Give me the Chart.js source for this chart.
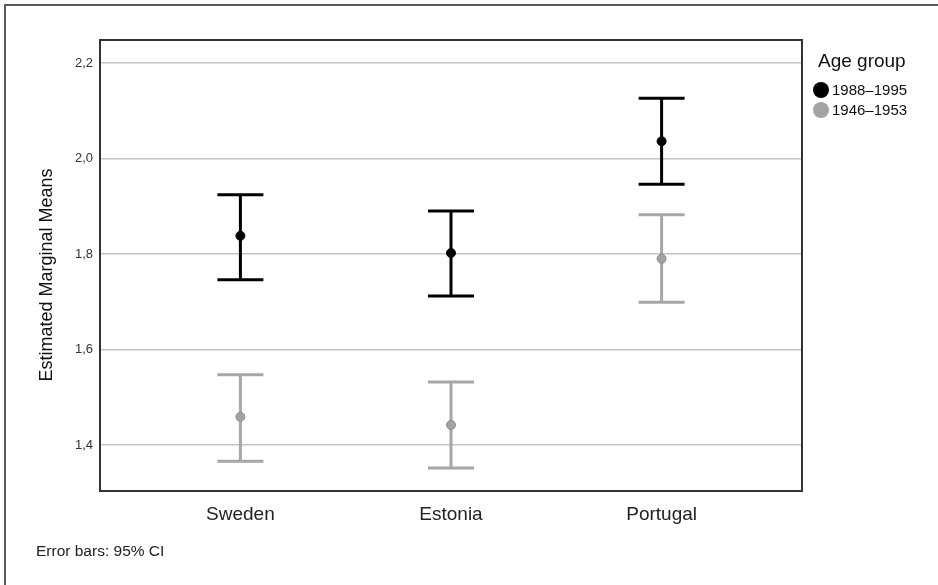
<!DOCTYPE html>
<html>
<head>
<meta charset="utf-8">
<script src="https://cdn.jsdelivr.net/npm/chart.js@4"></script>
<style>
  html, body { margin: 0; padding: 0; background: #fff; }
  #wrap { position: relative; width: 938px; height: 585px; overflow: hidden; font-family: "Liberation Sans", Arial, sans-serif; }
  #c { position: absolute; left: 0; top: 0; }
  #frame { position: absolute; left: 4px; top: 4px; width: 960px; height: 700px; border-left: 2px solid #5a5a5a; border-top: 2px solid #5a5a5a; }
  #legend { position: absolute; left: 813px; top: 50px; color: #111; }
  #legend .title { position: absolute; left: 5px; top: 0; font-size: 19px; white-space: nowrap; }
  #legend .item { position: absolute; left: 0; font-size: 15px; white-space: nowrap; height: 18px; line-height: 18px; }
  #legend .dot { display: inline-block; width: 16px; height: 16px; border-radius: 50%; vertical-align: middle; margin-right: 3px; position: relative; top: -1px; }
  #ytitle { position: absolute; left: -104px; top: 264px; width: 300px; height: 22px; line-height: 22px; text-align: center; font-size: 18px; color: #111; transform: rotate(-90deg); transform-origin: 150px 11px; white-space: nowrap; }
  #foot { position: absolute; left: 36px; top: 542px; font-size: 15.5px; color: #222; white-space: nowrap; }
</style>
</head>
<body>
<div id="wrap">
  <canvas id="c" width="938" height="585"></canvas>
  <div id="frame"></div>
  <div id="legend"></div>
  <div id="ytitle"></div>
  <div id="foot">Error bars: 95% CI</div>
</div>
<script>
const categories = ['Sweden', 'Estonia', 'Portugal'];
const seriesNames = ['1988–1995', '1946–1953'];
const legendTitle = 'Age group';
const yTitle = 'Estimated Marginal Means';
const youngMean  = [1.838, 1.802, 2.036];
const youngLower = [1.746, 1.712, 1.946];
const youngUpper = [1.924, 1.890, 2.126];
const oldMean  = [1.459, 1.442, 1.790];
const oldLower = [1.366, 1.352, 1.699];
const oldUpper = [1.547, 1.532, 1.882];
const yTicks = [1.4, 1.6, 1.8, 2.0, 2.2];
const yTickLabels = ['1,4', '1,6', '1,8', '2,0', '2,2'];

const colors = ['#000000', '#a6a6a6'];
const pointFill = ['#000000', '#a3a3a3'];
const pointBorder = ['#000000', '#8c8c8c'];

document.getElementById('ytitle').textContent = yTitle;

// legend
const lg = document.getElementById('legend');
lg.innerHTML = '<div class="title">' + legendTitle + '</div>' +
  seriesNames.map((n, i) => '<div class="item" style="top:' + (31 + i * 20) + 'px"><span class="dot" style="background:' + pointFill[i] + '"></span>' + n + '</div>').join('');

const errorBars = {
  id: 'errorBars',
  beforeDatasetsDraw(chart) {
    const ctx = chart.ctx;
    const xs = chart.scales.x, ys = chart.scales.y;
    chart.data.datasets.forEach((ds, d) => {
      ctx.save();
      ctx.strokeStyle = ds.barColor;
      ctx.lineWidth = 3;
      ctx.lineCap = 'butt';
      ds.data.forEach((p, i) => {
        const x = xs.getPixelForValue(p.x);
        const yl = ys.getPixelForValue(ds.lower[i]);
        const yu = ys.getPixelForValue(ds.upper[i]);
        const hw = 23;
        ctx.beginPath();
        ctx.moveTo(x, yl); ctx.lineTo(x, yu);
        ctx.moveTo(x - hw, yl); ctx.lineTo(x + hw, yl);
        ctx.moveTo(x - hw, yu); ctx.lineTo(x + hw, yu);
        ctx.stroke();
      });
      ctx.restore();
    });
  }
};

const plotFrame = {
  id: 'plotFrame',
  afterDraw(chart) {
    const {left, top, right, bottom} = chart.chartArea;
    const ctx = chart.ctx;
    ctx.save();
    ctx.strokeStyle = '#333';
    ctx.lineWidth = 2;
    ctx.strokeRect(left, top, right - left, bottom - top);
    ctx.restore();
  }
};

new Chart(document.getElementById('c'), {
  type: 'scatter',
  data: {
    datasets: [
      {
        label: seriesNames[0],
        data: categories.map((c, i) => ({x: i, y: youngMean[i]})),
        lower: youngLower, upper: youngUpper, barColor: colors[0],
        backgroundColor: pointFill[0], borderColor: pointBorder[0], pointRadius: 4.5, borderWidth: 1
      },
      {
        label: seriesNames[1],
        data: categories.map((c, i) => ({x: i, y: oldMean[i]})),
        lower: oldLower, upper: oldUpper, barColor: colors[1],
        backgroundColor: pointFill[1], borderColor: pointBorder[1], pointRadius: 4.5, borderWidth: 1
      }
    ]
  },
  options: {
    responsive: false,
    animation: false,
    layout: { padding: { left: 0, top: 40, right: 136, bottom: 0 } },
    plugins: { legend: { display: false }, tooltip: { enabled: false } },
    scales: {
      x: {
        type: 'linear',
        min: -2 / 3, max: 8 / 3,
        afterBuildTicks(scale) { scale.ticks = categories.map((c, i) => ({value: i})); },
        afterFit(scale) { scale.height = 94; },
        grid: { display: false },
        border: { display: false },
        ticks: {
          autoSkip: false, maxRotation: 0, padding: 4,
          color: '#222',
          font: { family: '"Liberation Sans", Arial, sans-serif', size: 19 },
          callback: (v, i) => categories[i]
        }
      },
      y: {
        min: 1.3037, max: 2.248,
        afterBuildTicks(scale) { scale.ticks = yTicks.map(v => ({value: v})); },
        afterFit(scale) { scale.width = 100; },
        grid: { color: '#c4c4c4', lineWidth: 1.5, drawTicks: false },
        border: { display: false },
        ticks: {
          padding: 7,
          color: '#333',
          font: { family: '"Liberation Sans", Arial, sans-serif', size: 13 },
          callback: (v, i) => yTickLabels[i]
        }
      }
    }
  },
  plugins: [errorBars, plotFrame]
});
</script>
</body>
</html>
